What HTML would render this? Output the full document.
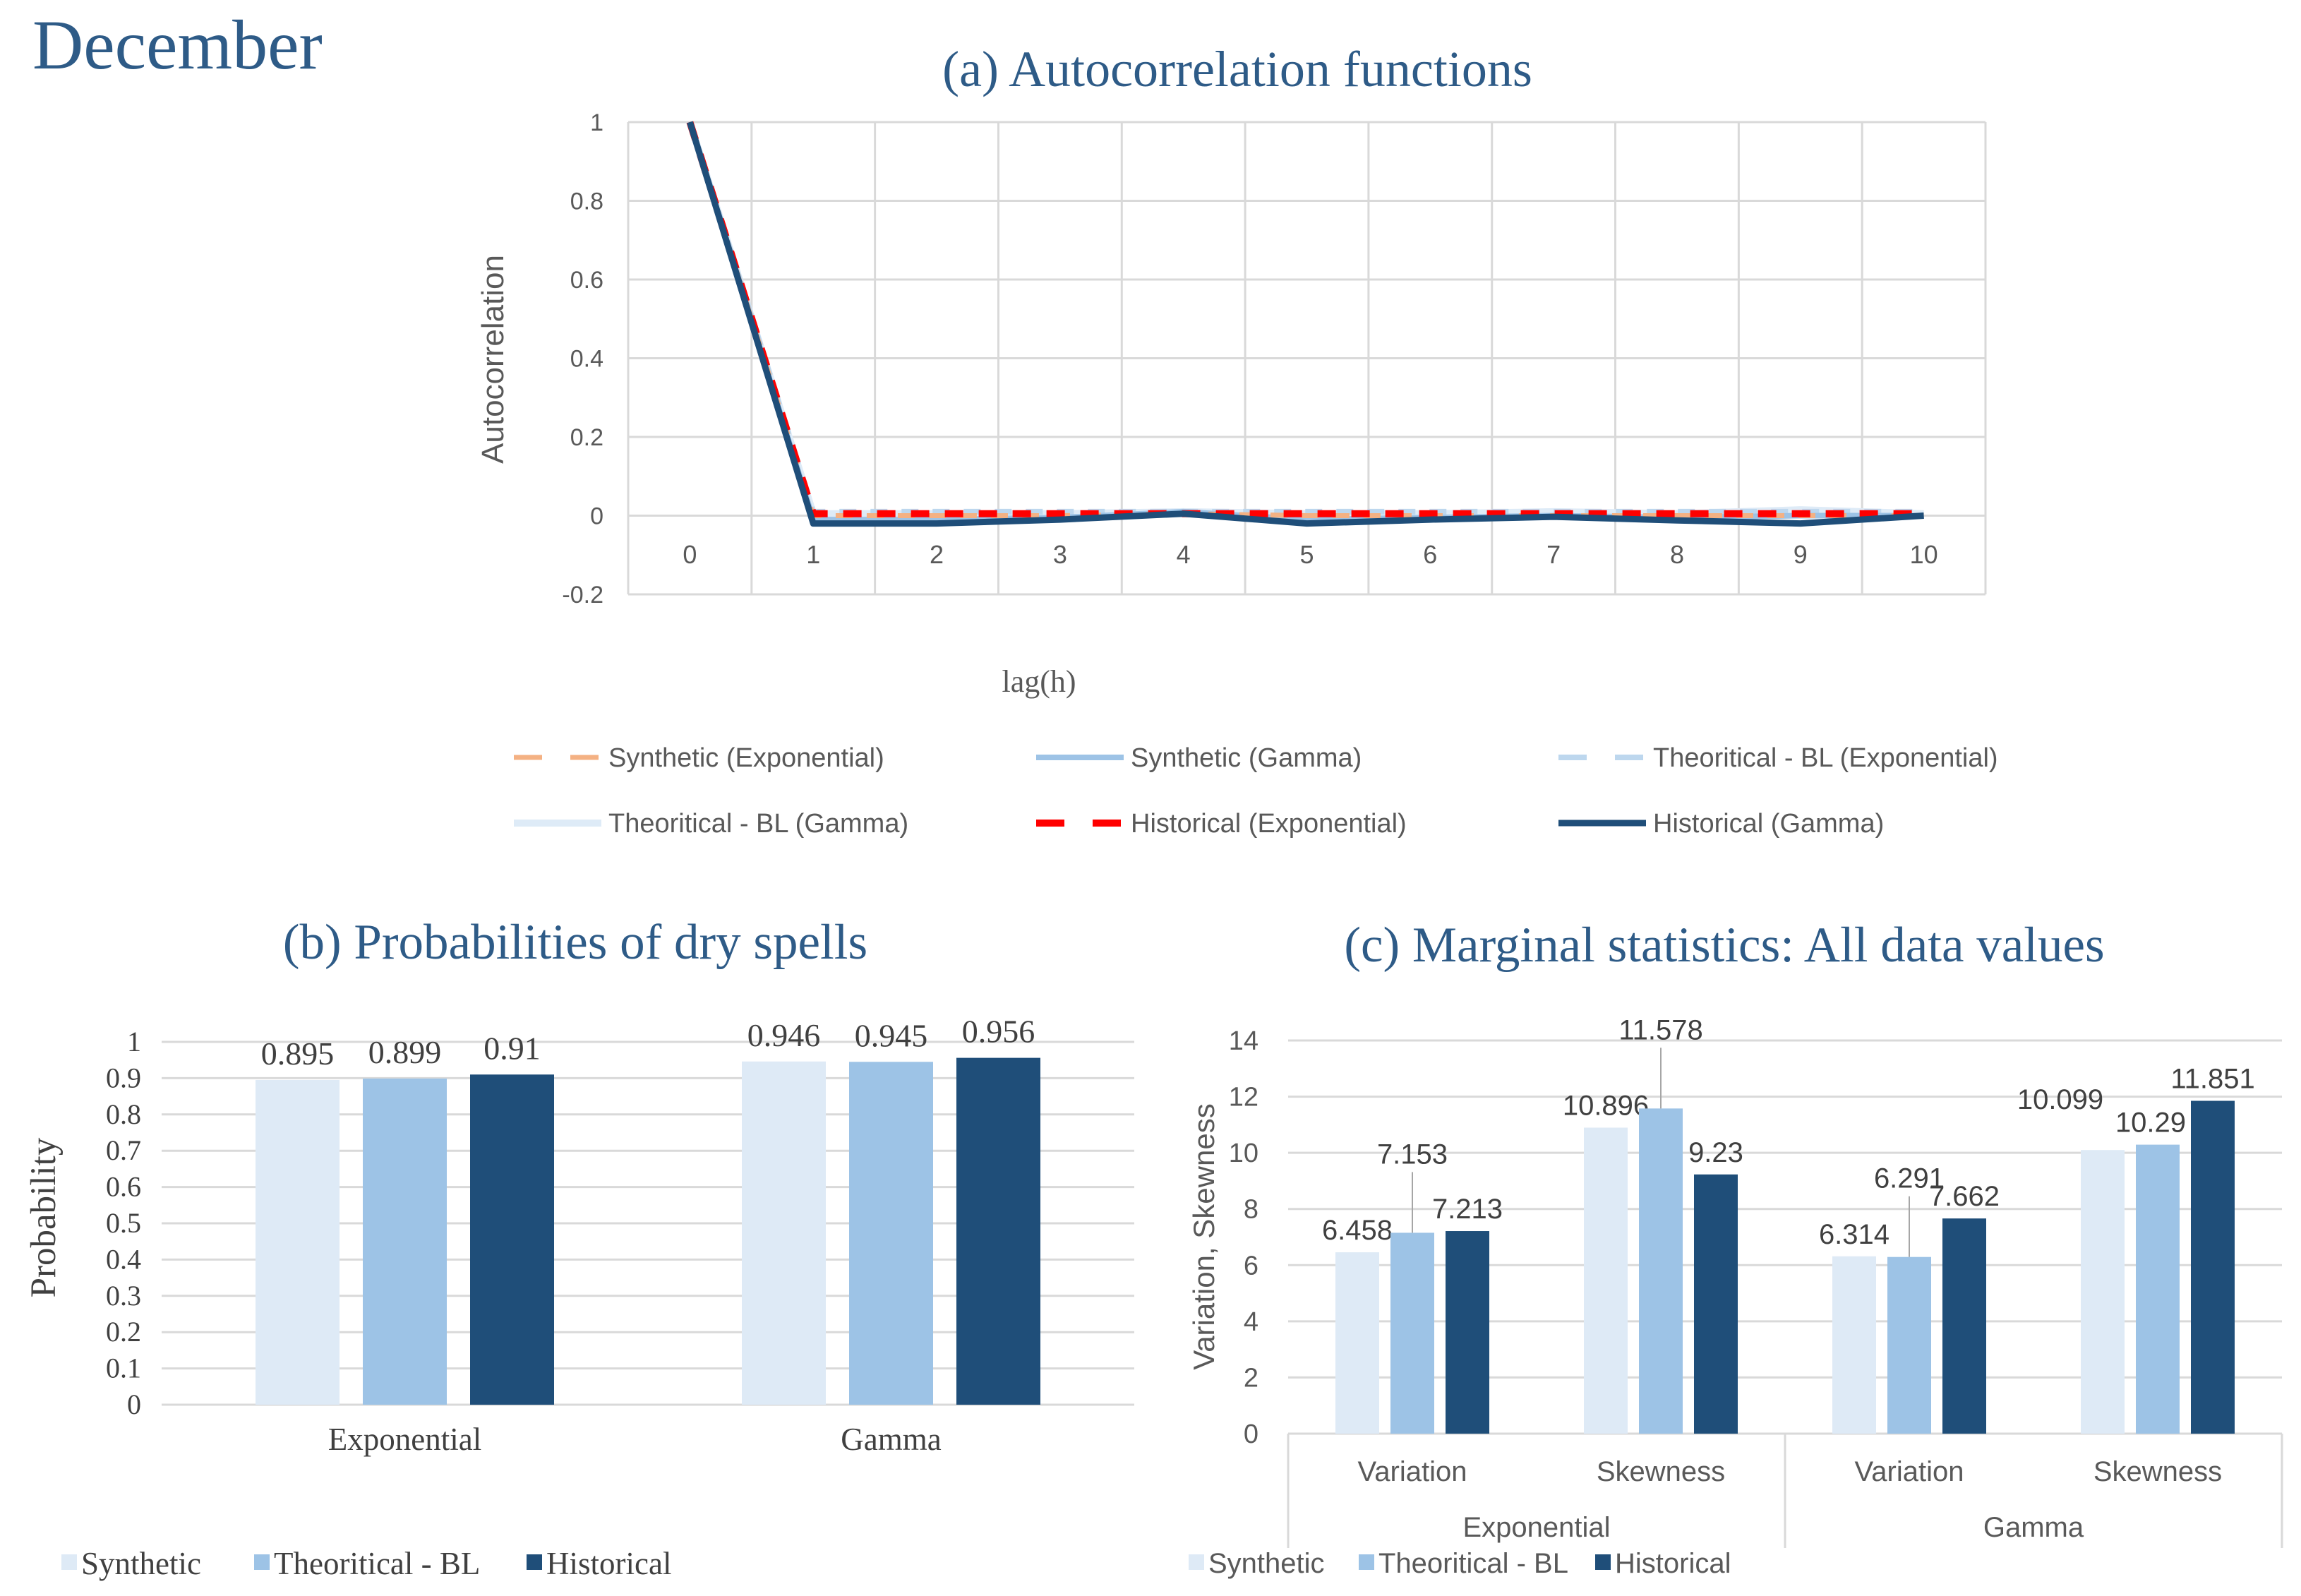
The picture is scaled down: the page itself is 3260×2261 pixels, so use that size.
<!DOCTYPE html>
<html><head><meta charset="utf-8"><style>
html,body{margin:0;padding:0;background:#fff;}
svg{display:block;}
.s{font-family:"Liberation Sans Narrow","Liberation Sans",sans-serif;}
.r{font-family:"Liberation Serif",serif;}
</style></head><body>
<svg id="svg" width="3260" height="2261" viewBox="0 0 3260 2261" xmlns="http://www.w3.org/2000/svg">
<text x="46" y="97" class="r" font-size="100" fill="#2e5b87">December</text>
<g id="ga"></g>
<g id="gb"></g>
<g id="gc"></g>
</svg>
<script>
// ---- chart (a) data ----
const lags = [0,1,2,3,4,5,6,7,8,9,10];
const yTicksA = [-0.2,0,0.2,0.4,0.6,0.8,1];
const synExp = [1,0.0,0.0,0.0,0.005,0.0,0.0,0.0,0.0,0.0,0.0];
const synGam = [1,-0.01,-0.01,-0.005,0.01,-0.01,-0.005,0.0,-0.005,0.0,0.0];
const theoExp = [1,0.01,0.01,0.01,0.01,0.01,0.01,0.01,0.01,0.01,0.01];
const theoGam = [1,0.005,0.005,0.005,0.01,0.005,0.005,0.01,0.005,0.015,0.005];
const histExp = [1,0.005,0.005,0.005,0.005,0.005,0.005,0.005,0.005,0.005,0.005];
const histGam = [1,-0.02,-0.02,-0.01,0.005,-0.02,-0.01,-0.003,-0.012,-0.02,0.0];
// ---- chart (b) data ----
const catsB = ["Exponential","Gamma"];
const seriesNames = ["Synthetic","Theoritical - BL","Historical"];
const probSyn = [0.895,0.946];
const probTheo = [0.899,0.945];
const probHist = [0.91,0.956];
const yTicksB = [0,0.1,0.2,0.3,0.4,0.5,0.6,0.7,0.8,0.9,1];
// ---- chart (c) data ----
const catsC = ["Variation","Skewness","Variation","Skewness"];
const groupsC = ["Exponential","Gamma"];
const statSyn = [6.458,10.896,6.314,10.099];
const statTheo = [7.153,11.578,6.291,10.29];
const statHist = [7.213,9.23,7.662,11.851];
const yTicksC = [0,2,4,6,8,10,12,14];

const NS="http://www.w3.org/2000/svg";
const colors=["#deeaf6","#9dc3e6","#1f4e79"];
function mk(parent,tag,attrs,text){const e=document.createElementNS(NS,tag);for(const k in attrs)e.setAttribute(k,attrs[k]);if(text!==undefined)e.textContent=text;parent.appendChild(e);return e;}

// ===== chart (a) =====
(function(){
const g=document.getElementById('ga');
const L=890,R=2813,T=173,B=842;
const y=v=>B-(v-(-0.2))/(1.2)*(B-T);
const bw=(R-L)/lags.length;
const x=i=>L+bw*(i+0.5);
let t=mk(g,'text',{x:1753,y:122,'text-anchor':'middle','font-size':72,fill:'#2e5b87',class:'r'},'(a) Autocorrelation functions');


yTicksA.forEach(v=>{
 let l=mk(g,'line',{x1:L,x2:R,y1:y(v),y2:y(v),stroke:'#d9d9d9','stroke-width':3});
 
 
 let tx=mk(g,'text',{x:855,y:y(v)+12,'text-anchor':'end','font-size':34,fill:'#595959',class:'s'},String(v));
 
 
});
for(let i=0;i<=lags.length;i++){
 let l=mk(g,'line',{x1:L+bw*i,x2:L+bw*i,y1:T,y2:B,stroke:'#d9d9d9','stroke-width':3});
 
 
}
lags.forEach((v,i)=>{
 let tx=mk(g,'text',{x:x(i),y:798,'text-anchor':'middle','font-size':36,fill:'#595959',class:'s'},String(v));
 
 
});
t=mk(g,'text',{x:0,y:0,transform:'translate(713,509) rotate(-90)','text-anchor':'middle','font-size':44,fill:'#595959',class:'s'},'Autocorrelation');


t=mk(g,'text',{x:1472,y:980,'text-anchor':'middle','font-size':44,fill:'#595959',class:'r'},'lag(h)');


const series=[
 {d:theoGam,c:'#deebf7',w:10,dash:'',n:'Theoritical - BL (Gamma)'},
 {d:theoExp,c:'#bdd7ee',w:8,dash:'24 20',n:'Theoritical - BL (Exponential)'},
 {d:synGam,c:'#9dc3e6',w:8,dash:'',n:'Synthetic (Gamma)'},
 {d:synExp,c:'#f4b183',w:7,dash:'24 20',n:'Synthetic (Exponential)'},
 {d:histExp,c:'#ff0000',w:10,dash:'26 22',n:'Historical (Exponential)'},
 {d:histGam,c:'#1f4e79',w:9,dash:'',n:'Historical (Gamma)'}];
series.forEach(s=>{
 const pts=s.d.map((v,i)=>x(i)+','+y(v)).join(' ');
 let p=mk(g,'polyline',{points:pts,fill:'none',stroke:s.c,'stroke-width':s.w,'stroke-dasharray':s.dash,'stroke-linejoin':'round'});
 
 
});
const leg=[
 [series[3],728,1073],[series[2],1468,1073],[series[1],2208,1073],
 [series[0],728,1166],[series[4],1468,1166],[series[5],2208,1166]];
leg.forEach(([s,lx,ly])=>{
 let gg=mk(g,'g',{});
 
 
 mk(gg,'line',{x1:lx,x2:lx+124,y1:ly,y2:ly,stroke:s.c,'stroke-width':s.w,'stroke-dasharray':s.dash?'40 40':''});
 mk(gg,'text',{x:lx+134,y:ly+13,'font-size':38,fill:'#595959',class:'s'},s.n);
});
})();

// ===== chart (b) =====
(function(){
const g=document.getElementById('gb');
const L=229,R=1607,B0=1990,T1=1476;
const y=v=>B0-v*(B0-T1);
const band=(R-L)/catsB.length, bw=119, gap=33;
let t=mk(g,'text',{x:815,y:1358,'text-anchor':'middle','font-size':71,fill:'#2e5b87',class:'r'},'(b) Probabilities of dry spells');


yTicksB.forEach(v=>{
 let l=mk(g,'line',{x1:L,x2:R,y1:y(v),y2:y(v),stroke:'#d9d9d9','stroke-width':3});
 
 
 let tx=mk(g,'text',{x:200,y:y(v)+13,'text-anchor':'end','font-size':40,fill:'#404040',class:'r'},String(v));
 
 
});
const data=[probSyn,probTheo,probHist];
catsB.forEach((c,ci)=>{
 const cx=L+band*(ci+0.5);
 data.forEach((arr,si)=>{
  const bx=cx+(si-1)*(bw+gap)-bw/2;
  let r=mk(g,'rect',{x:bx,y:y(arr[ci]),width:bw,height:B0-y(arr[ci]),fill:colors[si]});
  
  
  let tx=mk(g,'text',{x:bx+bw/2,y:y(arr[ci])-22,'text-anchor':'middle','font-size':46,fill:'#404040',class:'r'},String(arr[ci]));
  
  
 });
 let tx=mk(g,'text',{x:cx,y:2054,'text-anchor':'middle','font-size':45,fill:'#404040',class:'r'},c);
 
 
});
t=mk(g,'text',{x:0,y:0,transform:'translate(78,1725) rotate(-90)','text-anchor':'middle','font-size':51,fill:'#404040',class:'r'},'Probability');


const lx=[87,360,746];
seriesNames.forEach((n,i)=>{
 let gg=mk(g,'g',{});
 
 
 mk(gg,'rect',{x:lx[i],y:2202,width:22,height:22,fill:colors[i]});
 mk(gg,'text',{x:lx[i]+28,y:2230,'font-size':45,fill:'#404040',class:'r'},n);
});
})();

// ===== chart (c) =====
(function(){
const g=document.getElementById('gc');
const L=1825,R=3233,B0=2031,T=1474;
const y=v=>B0-v/14*(B0-T);
const band=(R-L)/catsC.length, bw=62, gap=16;
let t=mk(g,'text',{x:2443,y:1362,'text-anchor':'middle','font-size':71,fill:'#2e5b87',class:'r'},'(c) Marginal statistics: All data values');


yTicksC.forEach(v=>{
 let l=mk(g,'line',{x1:L,x2:R,y1:y(v),y2:y(v),stroke:'#d9d9d9','stroke-width':3});
 
 
 let tx=mk(g,'text',{x:1783,y:y(v)+13,'text-anchor':'end','font-size':38,fill:'#595959',class:'s'},String(v));
 
 
});
[0,2,4].forEach(k=>{
 let l=mk(g,'line',{x1:L+band*k,x2:L+band*k,y1:B0,y2:2193,stroke:'#d9d9d9','stroke-width':3});
 
 
});
const data=[statSyn,statTheo,statHist];
catsC.forEach((c,ci)=>{
 const cx=L+band*(ci+0.5);
 data.forEach((arr,si)=>{
  const bx=cx+(si-1)*(bw+gap)-bw/2;
  const top=y(arr[ci]);
  let r=mk(g,'rect',{x:bx,y:top,width:bw,height:B0-top,fill:colors[si]});
  
  
  let ly=top-18, lxp=bx+bw/2;
  if(si===1 && ci<3){
   ly=top-98;
   let ll=mk(g,'line',{x1:lxp,x2:lxp,y1:ly+12,y2:top,stroke:'#a6a6a6','stroke-width':2});
   
   
  }
  if(si===0 && ci===3){lxp-=60; ly-=40;}
  if(si===1 && ci===3){lxp-=10;}
  let tx=mk(g,'text',{x:lxp,y:ly,'text-anchor':'middle','font-size':40,fill:'#404040',class:'s'},String(arr[ci]));
  
  
 });
 let tx=mk(g,'text',{x:cx,y:2098,'text-anchor':'middle','font-size':40,fill:'#595959',class:'s'},c);
 
 
});
groupsC.forEach((gn,gi)=>{
 let tx=mk(g,'text',{x:L+band*(2*gi+1),y:2177,'text-anchor':'middle','font-size':40,fill:'#595959',class:'s'},gn);
 
 
});
t=mk(g,'text',{x:0,y:0,transform:'translate(1720,1752) rotate(-90)','text-anchor':'middle','font-size':42,fill:'#595959',class:'s'},'Variation, Skewness');


const lx=[1684,1925,2260];
seriesNames.forEach((n,i)=>{
 let gg=mk(g,'g',{});
 
 
 mk(gg,'rect',{x:lx[i],y:2202,width:22,height:22,fill:colors[i]});
 mk(gg,'text',{x:lx[i]+28,y:2228,'font-size':40,fill:'#595959',class:'s'},n);
});
})();
</script>
</body></html>
